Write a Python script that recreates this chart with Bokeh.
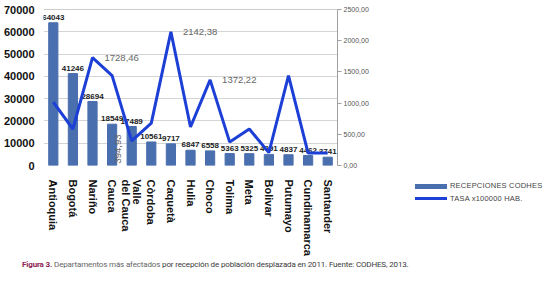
import math
from bokeh.plotting import figure
from bokeh.models import (ColumnDataSource, FactorRange, Range1d, LinearAxis, FixedTicker,
                          CustomJSTickFormatter, Span, Div)
from bokeh.layouts import column, row
from bokeh.embed import file_html
from bokeh.resources import INLINE
from bokeh.core.properties import value

departamentos = ["Antioquia", "Bogotá", "Nariño", "Cauca", "Valle\ndel Cauca", "Còrdoba",
                 "Caquetà", "Hulia", "Choco", "Tolima", "Meta", "Bolivar", "Putumayo",
                 "Cundinamarca", "Santander"]
recepciones = [64043, 41246, 28694, 18549, 17489, 10561, 9717, 6847, 6558, 5363, 5325,
               4991, 4837, 4462, 3741]
tasa = [1015, 585, 1728.46, 1440, 394.93, 680, 2142.38, 617, 1372.22, 375, 585, 206,
        1440, 200, 200]
left_ticks = [0, 10000, 20000, 30000, 40000, 50000, 60000, 70000]
right_ticks = [0, 500, 1000, 1500, 2000, 2500]
tasa_label_cats = ["Nariño", "Caquetà", "Choco"]
tasa_label_rot_cats = ["Valle\ndel Cauca"]
legend_labels = ["RECEPCIONES CODHES", "TASA x100000 HAB."]

FONT = "Liberation Sans"
BAR = "#4a6fae"
LINE = "#1c3fd6"

p = figure(width=380, height=258, x_range=FactorRange(factors=departamentos, range_padding=0),
           y_range=Range1d(0, 70000), output_backend="svg", toolbar_location=None,
           min_border_left=36, min_border_right=43, min_border_top=9, min_border_bottom=91)
p.extra_y_ranges = {"rate": Range1d(0, 2500)}
p.outline_line_color = None
p.xgrid.grid_line_color = None
p.ygrid.grid_line_color = "#d4d4d4"
p.ygrid.ticker = FixedTicker(ticks=left_ticks)

src = ColumnDataSource(dict(cat=departamentos, val=recepciones,
                            lbl=[str(v) for v in recepciones], rate=tasa))
p.vbar(x="cat", top="val", width=0.47, source=src, color=BAR)
p.add_layout(Span(location=left_ticks[-1], dimension="width", line_color="#9a9a9a", line_width=1))

p.text(x="cat", y="val", text="lbl", source=src, text_align="center", text_baseline="bottom",
       y_offset=-3, text_font=value(FONT), text_font_size="8px", text_font_style="bold",
       text_color="#222222")

rate_line = p.line(x="cat", y="rate", source=src, y_range_name="rate", line_color=LINE,
                   line_width=3)

fmt = lambda v: f"{v:.2f}".replace(".", ",")
lab_vals = [tasa[departamentos.index(c)] for c in tasa_label_cats]
lsrc = ColumnDataSource(dict(cat=tasa_label_cats, rate=lab_vals, lbl=[fmt(v) for v in lab_vals]))
p.text(x="cat", y="rate", text="lbl", source=lsrc, y_range_name="rate", text_align="left",
       text_baseline="middle", x_offset=12, text_font=value(FONT), text_font_size="9.5px",
       text_color="#666666")
rot_vals = [tasa[departamentos.index(c)] for c in tasa_label_rot_cats]
rsrc = ColumnDataSource(dict(cat=tasa_label_rot_cats, y=[0] * len(rot_vals),
                             lbl=[fmt(v) for v in rot_vals]))
p.text(x="cat", y="y", text="lbl", source=rsrc, y_range_name="rate", angle=math.pi / 2,
       text_align="left", text_baseline="middle", x_offset=-14, y_offset=-2,
       text_font=value(FONT), text_font_size="9.5px", text_color="#666666")

# axes
p.yaxis.ticker = FixedTicker(ticks=left_ticks)
p.yaxis.axis_line_color = None
p.yaxis.major_tick_line_color = None
p.yaxis.minor_tick_line_color = None
p.yaxis.major_label_standoff = 3
p.yaxis.major_label_text_font = FONT
p.yaxis.major_label_text_font_size = "11px"
p.yaxis.major_label_text_font_style = "bold"
p.yaxis.major_label_text_color = "#111111"

p.xaxis.axis_line_color = None
p.xaxis.major_tick_line_color = None
p.xaxis.major_label_orientation = "vertical"
p.xaxis.major_label_standoff = 8
p.xaxis.major_label_text_font = FONT
p.xaxis.major_label_text_font_size = "11px"
p.xaxis.major_label_text_font_style = "bold"
p.xaxis.major_label_text_color = "#111111"
p.xaxis.major_label_text_line_height = 0.95

ra = LinearAxis(y_range_name="rate", ticker=FixedTicker(ticks=right_ticks),
                formatter=CustomJSTickFormatter(code="return tick.toFixed(2).replace('.', ',');"))
ra.axis_line_color = "#a0a0a0"
ra.major_tick_line_color = "#a0a0a0"
ra.major_tick_in = 0
ra.major_tick_out = 4
ra.minor_tick_line_color = None
ra.major_label_standoff = 2
ra.major_label_text_font = FONT
ra.major_label_text_font_size = "7px"
ra.major_label_text_color = "#555555"
p.add_layout(ra, "right")

# legend (HTML block to the right of the plot)
txt_style = ("position:absolute;left:70px;white-space:nowrap;font-family:'Liberation Sans';"
             "font-size:7.5px;line-height:10px;color:#444444;letter-spacing:0.2px")
legend_html = (
    '<div style="position:relative;width:167px;height:258px">'
    f'<div style="position:absolute;left:35px;top:184px;width:32px;height:5px;background:{BAR}"></div>'
    f'<div style="{txt_style};top:181px">{legend_labels[0]}</div>'
    f'<div style="position:absolute;left:35px;top:197px;width:32px;height:3px;background:{LINE}"></div>'
    f'<div style="{txt_style};top:193.5px">{legend_labels[1]}</div>'
    '</div>')
legend_div = Div(text=legend_html, width=167, height=258, styles={"margin": "0", "padding": "0"})

caption = Div(text='<span style="color:#8b2252;font-weight:bold">Figura 3.</span> '
                   'Departamentos más afectados <span style="color:#3a3a3a">por recepción de '
                   'población desplazada en 2011. Fuente: CODHES, 2013.</span>',
              width=547, height=22,
              styles={"font-family": "Roboto", "font-size": "8px", "letter-spacing": "-0.15px",
                      "color": "#666666", "padding-left": "22px", "padding-top": "1px",
                      "margin": "0"})

layout = column(row(p, legend_div, spacing=0), caption, spacing=0)
open("out.html", "w").write(file_html(layout, INLINE))
